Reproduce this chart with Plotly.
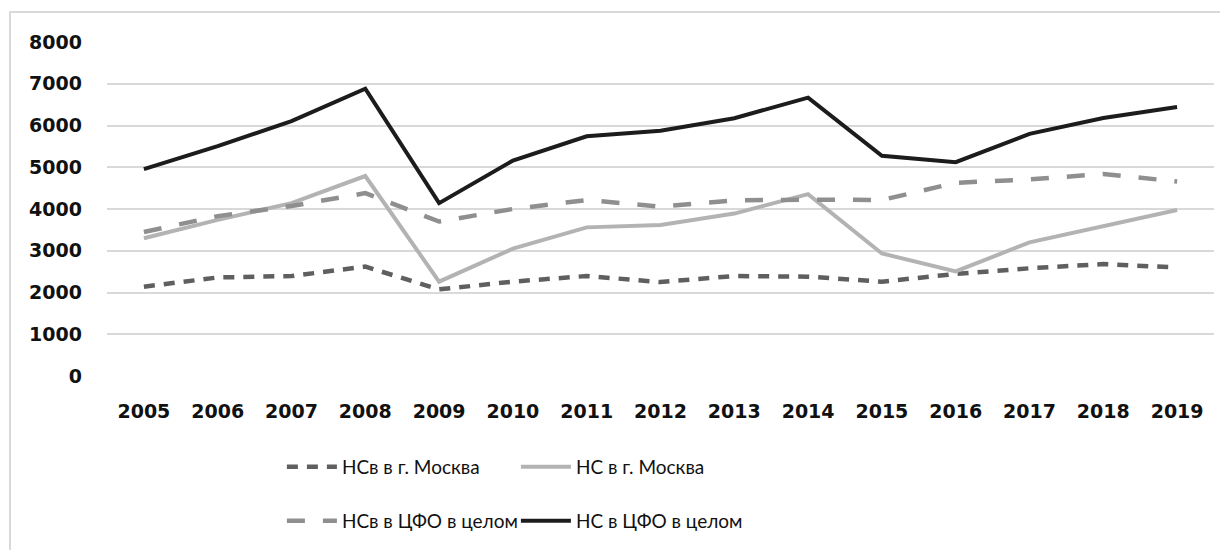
import plotly.graph_objects as go

years = ["2005", "2006", "2007", "2008", "2009", "2010", "2011", "2012",
         "2013", "2014", "2015", "2016", "2017", "2018", "2019"]

nsv_moscow = [2140, 2360, 2395, 2620, 2075, 2260, 2395, 2250, 2395, 2380, 2260, 2445, 2580, 2680, 2600]
ns_moscow = [3300, 3740, 4140, 4790, 2260, 3050, 3560, 3617, 3890, 4355, 2935, 2505, 3200, 3580, 3976]
nsv_cfo = [3450, 3830, 4072, 4380, 3700, 4000, 4215, 4056, 4205, 4225, 4215, 4627, 4710, 4838, 4660]
ns_cfo = [4955, 5505, 6105, 6880, 4140, 5160, 5740, 5872, 6175, 6668, 5275, 5120, 5800, 6180, 6443]

names = ["НСв в г. Москва", "НС в г. Москва", "НСв в ЦФО в целом", "НС в ЦФО в целом"]

fig = go.Figure()
fig.add_trace(go.Scatter(x=years, y=nsv_moscow, name=names[0], mode="lines",
                         line=dict(color="#5f5f5f", width=4.5, dash="11px,9px"),
                         legend="legend"))
fig.add_trace(go.Scatter(x=years, y=ns_moscow, name=names[1], mode="lines",
                         line=dict(color="#b3b3b3", width=4),
                         legend="legend"))
fig.add_trace(go.Scatter(x=years, y=nsv_cfo, name=names[2], mode="lines",
                         line=dict(color="#8f8f8f", width=4.5, dash="18px,18px"),
                         legend="legend2"))
fig.add_trace(go.Scatter(x=years, y=ns_cfo, name=names[3], mode="lines",
                         line=dict(color="#1c1c1c", width=4),
                         legend="legend2"))

tick_font = dict(family="'DejaVu Sans', sans-serif", size=19, color="#111111", weight="bold")
leg_font = dict(family="Lato, sans-serif", size=19, color="#111111")

# page body has an 8px default margin, so figure coordinates are offset by 8px
L, R, T, B = 99, 22, 34, 182
PW = 1228 - L - R
PH = 550 - T - B

fig.update_layout(
    width=1228, height=550,
    margin=dict(l=L, r=R, t=T, b=B, autoexpand=False),
    paper_bgcolor="white", plot_bgcolor="white",
    showlegend=True,
    xaxis=dict(type="category", range=[-0.5, 14.5], showgrid=False, zeroline=False,
               showline=False, ticks="", tickfont=tick_font, ticklabelstandoff=22),
    yaxis=dict(range=[0, 8000], dtick=1000, showgrid=True, gridcolor="#d9d9d9", gridwidth=1.5,
               zeroline=False, showline=False, ticks="", tickfont=tick_font,
               ticklabelstandoff=24),
    legend=dict(orientation="h", x=0.158, y=-0.272, xanchor="left", yanchor="middle",
                entrywidth=169, entrywidthmode="pixels", font=leg_font, itemwidth=50,
                bgcolor="rgba(0,0,0,0)"),
    legend2=dict(orientation="h", x=0.158, y=-0.434, xanchor="left", yanchor="middle",
                 entrywidth=169, entrywidthmode="pixels", font=leg_font, itemwidth=50,
                 bgcolor="rgba(0,0,0,0)"),
    shapes=[dict(type="rect", xref="paper", yref="paper",
                 x0=(2 - L) / PW, x1=(1240 - L) / PW,
                 y0=-(560 - (550 - B)) / PH, y1=1 + (T - 4) / PH,
                 line=dict(color="#d9d9d9", width=2), fillcolor="rgba(0,0,0,0)", layer="below")],
)

fig.write_html("out.html")
